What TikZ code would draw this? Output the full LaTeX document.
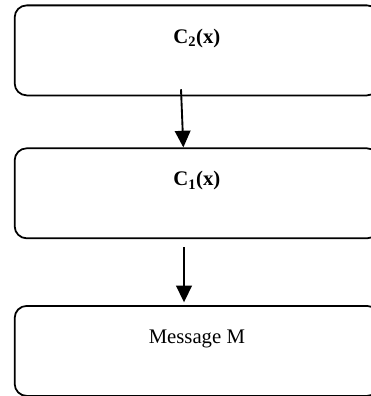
\documentclass[tikz,border=0pt]{standalone}
\usepackage{fontspec}
\setmainfont{Liberation Serif}
\usetikzlibrary{arrows.meta,positioning}

\begin{document}
\begin{tikzpicture}[x=0.03cm,y=-0.03cm,
  blk/.style={draw,line width=1.5pt,rounded corners=0.36cm,minimum width=10.93cm,inner sep=0pt,
    text height=1.13cm,text depth=1.57cm,font=\fontsize{17.7}{21}\selectfont},
  arr/.style={line width=1.6pt,-{Triangle[width=13.3pt,length=14.2pt]}}]
\useasboundingbox (0,0) rectangle (371,396);
\node[blk,anchor=north] (ctwo) at (196.85,4.5) {\textbf{C\textsubscript{2}(x)}};
\node[blk,below=1.535cm of ctwo] (cone) {\textbf{C\textsubscript{1}(x)}};
\node[blk,below=1.975cm of cone] (msg) {Message M};
\draw[arr] ([shift={(-15.85,-7)}]ctwo.south) -- ([shift={(-13.5,0)}]cone.north);
\draw[arr] ([shift={(-12.85,8)}]cone.south) -- ([shift={(-12.85,-2.7)}]msg.north);
\end{tikzpicture}
\end{document}
